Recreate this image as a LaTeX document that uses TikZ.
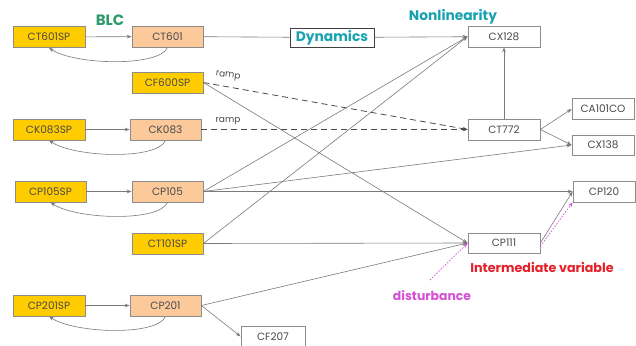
\documentclass[tikz,border=0pt]{standalone}
\usepackage{fontspec}
\setmainfont{Poppins}
\usetikzlibrary{arrows.meta}
\definecolor{gold}{HTML}{FFCC00}
\definecolor{peach}{HTML}{FCC99B}
\definecolor{bordergray}{HTML}{8C8C8C}
\definecolor{txtgray}{HTML}{4A4A4A}
\definecolor{linegray}{HTML}{7A7A7A}
\definecolor{tealc}{HTML}{17A2B0}
\definecolor{greenc}{HTML}{2E9A6A}
\definecolor{redc}{HTML}{E5202A}
\definecolor{magc}{HTML}{D64FD6}
\tikzset{
  box/.style={draw=bordergray, line width=0.7pt, inner sep=0pt, minimum width=71pt, minimum height=21pt,
    font=\fontsize{10.5}{11}\selectfont, text=txtgray},
  spbox/.style={box, fill=gold},
  pvbox/.style={box, fill=peach},
  wbox/.style={box, fill=white},
  conn/.style={draw=linegray, line width=0.6pt},
  arr/.style={conn, -{Stealth[length=5pt,width=3.6pt]}},
  dash arr/.style={draw=txtgray, line width=0.8pt, dash pattern=on 6pt off 4pt, -{Stealth[length=5pt,width=3.6pt]}},
  fb/.style={conn, -{Stealth[length=5pt,width=3.6pt]}},
  magarr/.style={draw=magc, line width=0.7pt, dash pattern=on 1.5pt off 1.5pt, -{Stealth[length=5pt,width=3.6pt]}},
  lbl/.style={font=\fontsize{9}{10}\selectfont, text=txtgray, inner sep=0pt},
}
\begin{document}
\begin{tikzpicture}[x=1pt,y=-1pt]
\useasboundingbox[fill=white] (0,0) rectangle (636,345);
% nodes
\node[spbox, minimum width=72pt] (CT601SP) at (49,37) {CT601SP};
\node[pvbox] (CT601) at (167.5,36.5) {CT601};
\node[draw=black!75, line width=0.9pt, fill=white, inner sep=0pt, minimum width=84pt, minimum height=19pt,
      font=\bfseries\fontsize{13.8}{14}\selectfont, text=tealc] (Dyn) at (332,37.5) {Dynamics};
\node[wbox, minimum width=72pt] (CX128) at (504,36.5) {CX128};
\node[spbox] (CF600SP) at (167.5,82.5) {CF600SP};
\node[spbox, minimum width=72pt] (CK083SP) at (49,129.5) {CK083SP};
\node[pvbox] (CK083) at (165.5,129.5) {CK083};
\node[wbox, minimum width=72pt] (CT772) at (504,129.5) {CT772};
\node[wbox, minimum width=62pt] (CA101CO) at (603,109) {CA101CO};
\node[wbox, minimum width=62pt, minimum height=20pt] (CX138) at (603,145) {CX138};
\node[spbox] (CP105SP) at (50.5,191.5) {CP105SP};
\node[pvbox] (CP105) at (167.5,191.5) {CP105};
\node[spbox] (CT101SP) at (167.5,243.5) {CT101SP};
\node[wbox, minimum width=72pt, minimum height=20pt] (CP111) at (504,243) {CP111};
\node[wbox, minimum width=62pt] (CP120) at (604,191.5) {CP120};
\node[spbox, minimum width=72pt] (CP201SP) at (49,305.5) {CP201SP};
\node[pvbox] (CP201) at (165.5,305.5) {CP201};
\node[wbox, minimum width=64pt] (CF207) at (273,336.5) {CF207};
% labels
\node[font=\bfseries\fontsize{15}{16}\selectfont, text=greenc, inner sep=0pt] (BLC) at (110,20) {BLC};
\node[font=\bfseries\fontsize{13.8}{14}\selectfont, text=tealc, inner sep=0pt] (NL) at (453,17) {Nonlinearity};
\node[font=\bfseries\fontsize{12.7}{13}\selectfont, text=redc, inner sep=0pt] (IV) at (542,267) {Intermediate variable};
\node[font=\bfseries\fontsize{12.4}{13}\selectfont, text=magc, inner sep=0pt] (DIST) at (432,296) {disturbance};
\node[lbl, rotate=-8] (ramp1) at (228,76) {ramp};
\node[lbl] (ramp2) at (228,121) {ramp};
% connectors
\draw[arr] (CT601SP) -- (CT601);
\draw[arr] (CK083SP) -- (CK083);
\draw[arr] (CP105SP) -- (CP105);
\draw[arr] (CP201SP) -- (CP201);
\draw[fb] (CT601.south) .. controls +(-8,20) and +(25,17) .. (CT601SP.south);
\draw[fb] (CK083.south) .. controls +(-8,20) and +(25,17) .. (CK083SP.south);
\draw[fb] (CP105.south) .. controls +(-8,20) and +(25,17) .. (CP105SP.south);
\draw[fb] (CP201.south) .. controls +(-8,20) and +(25,17) .. (CP201SP.south);
\draw[conn] (CT601) -- (Dyn);
\draw[arr] (Dyn) -- (CX128);
\draw[dash arr] (CF600SP.east) -- (CT772.west);
\draw[dash arr] (CK083.east) -- (CT772.west);
\draw[arr] (CF600SP.east) -- (CP111.west);
\draw[arr] (CP105.east) -- (CX128.west);
\draw[arr] (CP105.east) -- (CX138.west);
\draw[arr] (CP105.east) -- (CP120.west);
\draw[arr] (CT101SP.east) -- (CX128.west);
\draw[arr] (CT101SP.east) -- (CP111.west);
\draw[arr] (CP201.east) -- (CP111.west);
\draw[arr] (CP201.east) -- (CF207.west);
\draw[arr] (CT772.north) -- (CX128.south);
\draw[arr] (CT772.east) -- (CA101CO.west);
\draw[arr] (CT772.east) -- (CX138.west);
\draw[arr] (CP111.east) -- (CP120.west);
\coordinate (dstart) at (430,280);
\draw[magarr] (dstart) -- (CP111.west);
\draw[magarr] (CP111.-5) -- (CP120.south west);
\end{tikzpicture}
\end{document}
